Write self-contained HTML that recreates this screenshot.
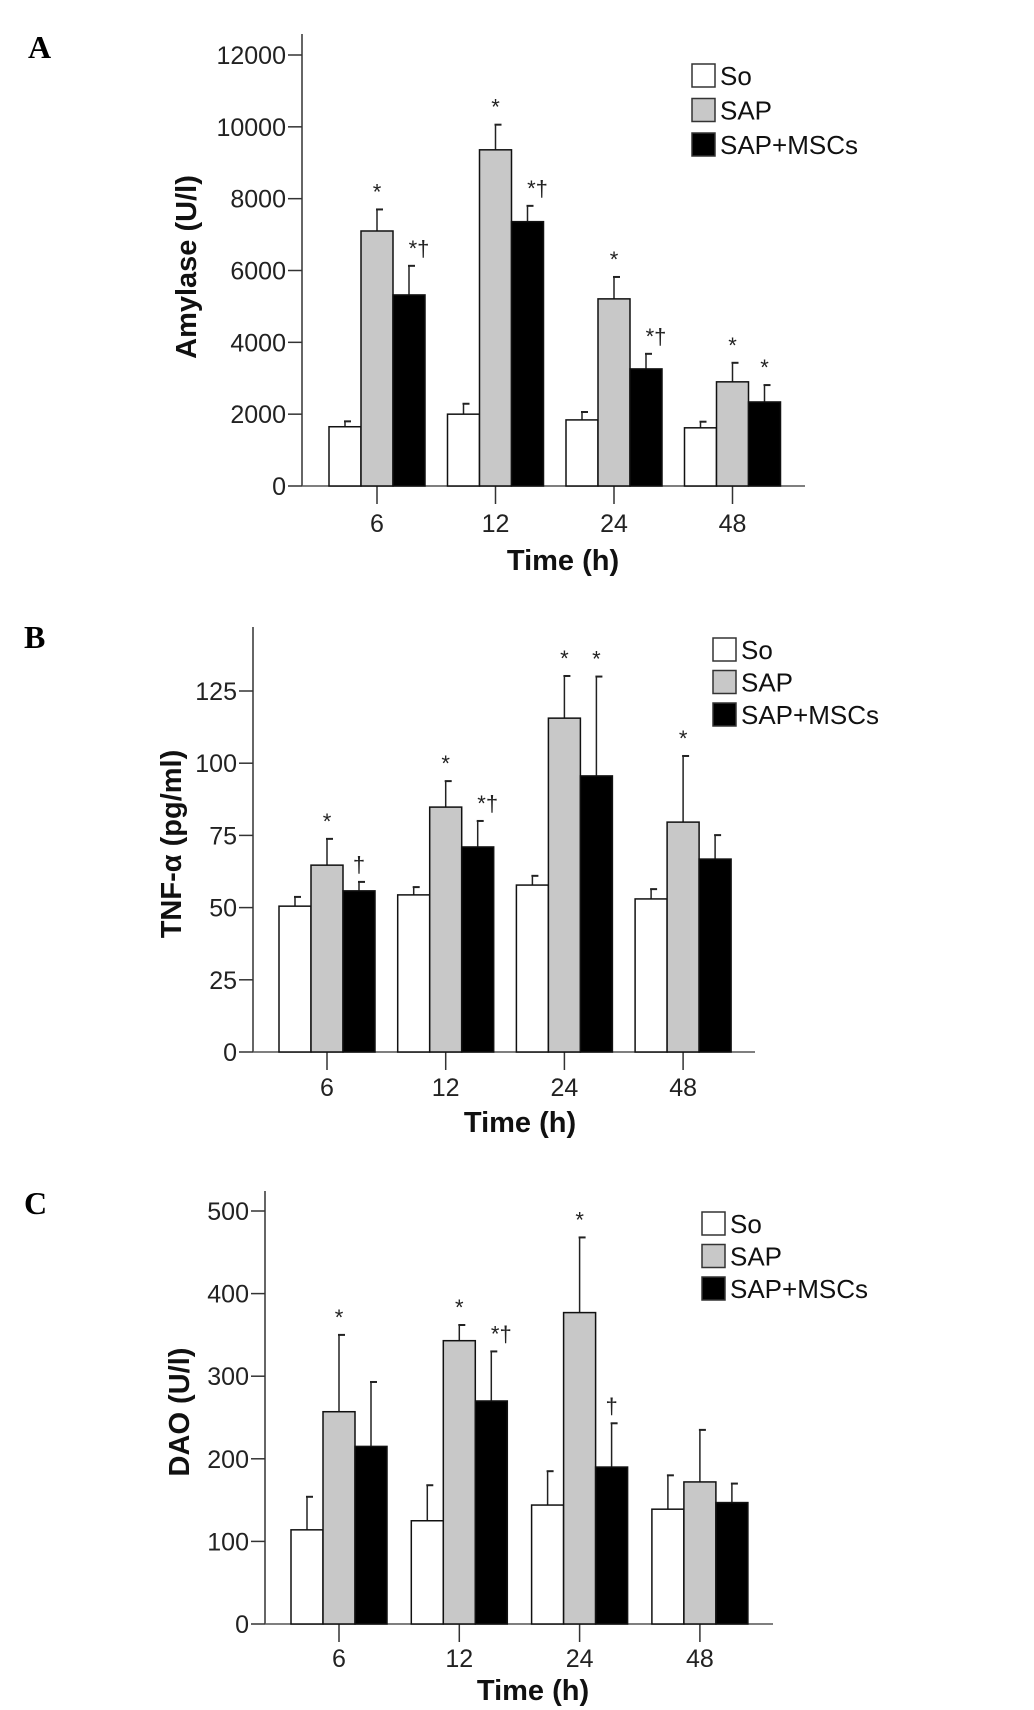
<!DOCTYPE html>
<html><head><meta charset="utf-8"><style>
html,body{margin:0;padding:0;background:#fff;}
svg{display:block;font-family:"Liberation Sans",Arial,sans-serif;}
</style></head><body>
<svg id="fig" width="1034" height="1710" viewBox="0 0 1034 1710" xmlns="http://www.w3.org/2000/svg"></svg>
<script>
const categories = ["6","12","24","48"];
const seriesNames = ["So","SAP","SAP+MSCs"];
// Panel A: Amylase
const amySo = [1650,2000,1840,1620];
const amySoErr = [1800,2290,2060,1790];
const amySap = [7100,9360,5210,2900];
const amySapErr = [7700,10060,5820,3430];
const amyMsc = [5320,7360,3260,2340];
const amyMscErr = [6130,7800,3680,2810];
const amyTicks = [0,2000,4000,6000,8000,10000,12000];
const amySapMarks = ["*","*","*","*"];
const amyMscMarks = ["*†","*†","*†","*"];
// Panel B: TNF-a
const tnfSo = [50.5,54.4,57.8,53];
const tnfSoErr = [53.7,57.1,61,56.4];
const tnfSap = [64.7,84.8,115.6,79.6];
const tnfSapErr = [73.8,93.8,130.2,102.5];
const tnfMsc = [55.8,71,95.6,66.8];
const tnfMscErr = [58.9,80,130,75.1];
const tnfTicks = [0,25,50,75,100,125];
const tnfSapMarks = ["*","*","*","*"];
const tnfMscMarks = ["†","*†","*",""];
// Panel C: DAO
const daoSo = [114,125,144,139];
const daoSoErr = [154,168,185,180];
const daoSap = [257,343,377,172];
const daoSapErr = [350,362,468,235];
const daoMsc = [215,270,190,147];
const daoMscErr = [293,330,243,170];
const daoTicks = [0,100,200,300,400,500];
const daoSapMarks = ["*","*","*",""];
const daoMscMarks = ["","*†","†",""];

const NS="http://www.w3.org/2000/svg";
const svg=document.getElementById('fig');
function mk(tag,attrs,parent,text){const e=document.createElementNS(NS,tag);for(const k in attrs)e.setAttribute(k,attrs[k]);if(text!==undefined)e.textContent=text;(parent||svg).appendChild(e);return e;}

function panel(cfg){
  const g=mk('g',{});
  
  
  const y=v=>cfg.y0-(v-0)/cfg.vmax*(cfg.y0-cfg.yTop);
  const lt=mk('text',{x:cfg.letter[0],y:cfg.letter[1],'font-family':'"Liberation Serif",serif','font-weight':'bold','font-size':32},g,cfg.letterText);
  
  
  const ya=mk('line',{x1:cfg.ax,y1:cfg.axTop,x2:cfg.ax,y2:cfg.y0,stroke:'#333','stroke-width':1.5},g);
  
  
  const xa=mk('line',{x1:cfg.ax,y1:cfg.y0,x2:cfg.axRight,y2:cfg.y0,stroke:'#555','stroke-width':1.5},g);
  
  
  cfg.ticks.forEach(t=>{
    const yy=y(t);
    mk('line',{x1:cfg.ax-14,y1:yy,x2:cfg.ax,y2:yy,stroke:'#333','stroke-width':1.5},g);
    const tl=mk('text',{x:cfg.ax-16,y:yy+9,'text-anchor':'end','font-size':25,fill:'#222'},g,String(t));
    
    
  });
  const sets=[[cfg.so,cfg.soErr,'#fff',null],[cfg.sap,cfg.sapErr,'#c8c8c8',cfg.sapMarks],[cfg.msc,cfg.mscErr,'#000',cfg.mscMarks]];
  categories.forEach((c,i)=>{
    const cx=cfg.gx0+i*cfg.gstep;
    mk('line',{x1:cx,y1:cfg.y0,x2:cx,y2:cfg.y0+18,stroke:'#333','stroke-width':1.5},g);
    const cl=mk('text',{x:cx,y:cfg.catY,'text-anchor':'middle','font-size':25,fill:'#222'},g,c);
    
    
    sets.forEach((s,j)=>{
      const bx=cx-48+j*32;
      const top=y(s[0][i]), et=y(s[1][i]);
      const mid=bx+16;
      const el=mk('line',{x1:mid,y1:top,x2:mid,y2:et,stroke:'#222','stroke-width':1.5},g);
      
      
      mk('line',{x1:mid-1,y1:et,x2:mid+6,y2:et,stroke:'#222','stroke-width':2},g);
      const r=mk('rect',{x:bx,y:top,width:32,height:cfg.y0-top,fill:s[2],stroke:'#111','stroke-width':1.5},g);
      
      
      if(s[3]&&s[3][i]){
        const m=s[3][i];
        const tx=mk('text',{x:m.length>1?mid+10:mid,y:et-10,'text-anchor':'middle','font-size':22,fill:'#222'},g,m);
        
        
      }
    });
  });
  const xt=mk('text',{x:cfg.xTitle[0],y:cfg.xTitle[1],'text-anchor':'middle','font-size':29,'font-weight':'bold',fill:'#111'},g,'Time (h)');
  
  
  const yt=mk('text',{x:0,y:0,'text-anchor':'middle','font-size':29,'font-weight':'bold',fill:'#111',transform:`translate(${cfg.yTitle[0]},${cfg.yTitle[1]}) rotate(-90)`},g,cfg.yTitleText);
  
  
  const fills=['#fff','#c8c8c8','#000'];
  seriesNames.forEach((n,j)=>{
    const ly=cfg.legY+j*cfg.legStep;
    const lg=mk('g',{},g);
    
    
    mk('rect',{x:cfg.legX,y:ly,width:23,height:23,fill:fills[j],stroke:'#333','stroke-width':1.5},lg);
    mk('text',{x:cfg.legX+28,y:ly+21,'font-size':26,fill:'#111'},lg,n);
  });
}

panel({name:'panel-a-amylase',letterText:'A',letter:[28,58],ax:302,axTop:34,axRight:805,y0:486,yTop:55,vmax:12000,ticks:amyTicks,
  gx0:377,gstep:118.5,catY:532,xTitle:[563,570],yTitle:[196,267],yTitleText:'Amylase (U/l)',
  so:amySo,soErr:amySoErr,sap:amySap,sapErr:amySapErr,msc:amyMsc,mscErr:amyMscErr,sapMarks:amySapMarks,mscMarks:amyMscMarks,
  legX:692,legY:64,legStep:34.5});
panel({name:'panel-b-tnf',letterText:'B',letter:[24,648],ax:253,axTop:627,axRight:755,y0:1052,yTop:691,vmax:125,ticks:tnfTicks,
  gx0:327,gstep:118.7,catY:1096,xTitle:[520,1132],yTitle:[181,844],yTitleText:'TNF-α (pg/ml)',
  so:tnfSo,soErr:tnfSoErr,sap:tnfSap,sapErr:tnfSapErr,msc:tnfMsc,mscErr:tnfMscErr,sapMarks:tnfSapMarks,mscMarks:tnfMscMarks,
  legX:713,legY:638,legStep:32.5});
panel({name:'panel-c-dao',letterText:'C',letter:[24,1214],ax:265,axTop:1191,axRight:773,y0:1624,yTop:1211,vmax:500,ticks:daoTicks,
  gx0:339,gstep:120.3,catY:1667,xTitle:[533,1700],yTitle:[189,1412],yTitleText:'DAO (U/l)',
  so:daoSo,soErr:daoSoErr,sap:daoSap,sapErr:daoSapErr,msc:daoMsc,mscErr:daoMscErr,sapMarks:daoSapMarks,mscMarks:daoMscMarks,
  legX:702,legY:1212,legStep:32.5});
</script>
</body></html>
